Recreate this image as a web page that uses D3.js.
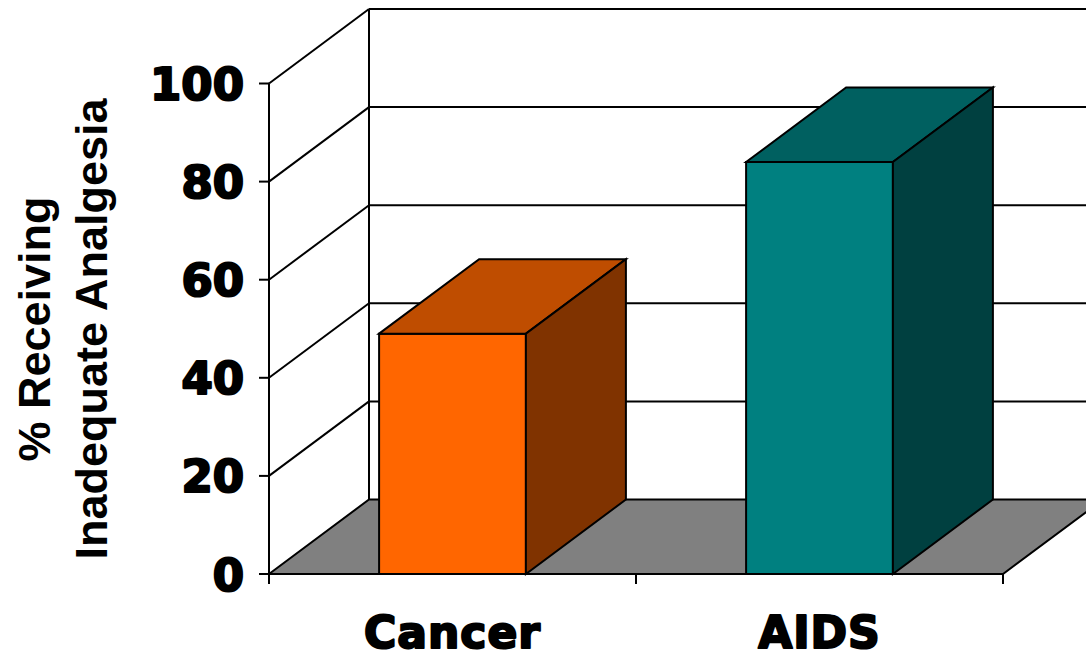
<!DOCTYPE html>
<html>
<head>
<meta charset="utf-8">
<script src="https://cdn.jsdelivr.net/npm/d3@7"></script>
<style>
  html, body { margin: 0; padding: 0; background: #fff; }
  svg { display: block; }
</style>
</head>
<body>
<svg id="chart" width="1086" height="655"></svg>
<script>
const categories = ["Cancer", "AIDS"];
const values = [49, 84];
const tickValues = [0, 20, 40, 60, 80, 100];
const tickLabels = ["0", "20", "40", "60", "80", "100"];
const frontColors = ["#FF6600", "#008080"];
const topColors = ["#BF4D00", "#006060"];
const sideColors = ["#803300", "#004040"];
const axisTitle = ["% Receiving", "Inadequate Analgesia"];

const svg = d3.select("#chart");

// front plane
const x0 = 269, x1 = 1003;
const y = d3.scaleLinear().domain([0, 100]).range([574, 83.5]);
const x = d3.scaleBand().domain(categories).range([x0, x1]).paddingInner(0.6).paddingOuter(0.3);
const DX = 100, DY = -74.5;   // depth offset
const wallRight = x1 + DX;

const stroke = "#000";
const sw = 2;

// back wall gridlines and side wall diagonals
const grid = svg.append("g");
tickValues.forEach(v => {
  if (v === 0) return;
  grid.append("line")
    .attr("x1", x0 + DX).attr("x2", wallRight + 20)
    .attr("y1", y(v) + DY).attr("y2", y(v) + DY)
    .attr("stroke", stroke).attr("stroke-width", sw);
  grid.append("line")
    .attr("x1", x0).attr("y1", y(v))
    .attr("x2", x0 + DX).attr("y2", y(v) + DY)
    .attr("stroke", stroke).attr("stroke-width", sw);
});
grid.append("line")
  .attr("x1", x0 + DX).attr("x2", x0 + DX)
  .attr("y1", y(100) + DY).attr("y2", y(0) + DY)
  .attr("stroke", stroke).attr("stroke-width", sw);

// floor
const floorPts = [[x0, y(0)], [x0 + DX, y(0) + DY], [wallRight, y(0) + DY], [x1, y(0)]];
svg.append("path")
  .attr("d", d3.line()(floorPts) + "Z")
  .attr("fill", "#808080").attr("stroke", stroke).attr("stroke-width", sw);

// bars
const bars = svg.append("g");
categories.forEach((c, i) => {
  const bx0 = x(c), bx1 = x(c) + x.bandwidth();
  const yt = y(values[i]), yb = y(0);
  bars.append("path")
    .attr("d", d3.line()([[bx0, yb], [bx0, yt], [bx1, yt], [bx1, yb]]) + "Z")
    .attr("fill", frontColors[i]).attr("stroke", stroke).attr("stroke-width", sw);
  bars.append("path")
    .attr("d", d3.line()([[bx0, yt], [bx0 + DX, yt + DY], [bx1 + DX, yt + DY], [bx1, yt]]) + "Z")
    .attr("fill", topColors[i]).attr("stroke", stroke).attr("stroke-width", sw);
  bars.append("path")
    .attr("d", d3.line()([[bx1, yb], [bx1, yt], [bx1 + DX, yt + DY], [bx1 + DX, yb + DY]]) + "Z")
    .attr("fill", sideColors[i]).attr("stroke", stroke).attr("stroke-width", sw);
});

// front y axis
const axisG = svg.append("g");
axisG.append("line")
  .attr("x1", x0).attr("x2", x0)
  .attr("y1", y(100)).attr("y2", y(0) + 10)
  .attr("stroke", stroke).attr("stroke-width", sw);
tickValues.forEach((v, i) => {
  axisG.append("line")
    .attr("x1", x0 - 10).attr("x2", x0)
    .attr("y1", y(v)).attr("y2", y(v))
    .attr("stroke", stroke).attr("stroke-width", sw);
  axisG.append("text")
    .attr("x", 244).attr("y", y(v) + 16.5)
    .attr("text-anchor", "end")
    .attr("font-family", "DejaVu Sans, sans-serif")
    .attr("font-weight", "bold")
    .attr("font-size", 45)
    .attr("fill", "#000").attr("stroke", "#000").attr("stroke-width", 2.2)
    .attr("stroke-linejoin", "round")
    .text(tickLabels[i]);
});

// bottom axis
axisG.append("line")
  .attr("x1", x0).attr("x2", x1)
  .attr("y1", y(0)).attr("y2", y(0))
  .attr("stroke", stroke).attr("stroke-width", sw);
const bounds = [x0].concat(categories.map(c => x(c) + x.bandwidth() / 2 + x.step() / 2));
bounds.forEach(bx => {
  axisG.append("line")
    .attr("x1", bx).attr("x2", bx)
    .attr("y1", y(0)).attr("y2", y(0) + 10)
    .attr("stroke", stroke).attr("stroke-width", sw);
});
categories.forEach(c => {
  axisG.append("text")
    .attr("x", x(c) + x.bandwidth() / 2)
    .attr("y", 648)
    .attr("text-anchor", "middle")
    .attr("font-family", "DejaVu Sans, sans-serif")
    .attr("font-weight", "bold")
    .attr("font-size", 44)
    .attr("letter-spacing", 1)
    .attr("fill", "#000").attr("stroke", "#000").attr("stroke-width", 2.2)
    .attr("stroke-linejoin", "round")
    .text(c);
});

// axis title
const titleBaselines = [50, 107];
axisTitle.forEach((t, i) => {
  svg.append("text")
    .attr("transform", `translate(${titleBaselines[i]},329) rotate(-90)`)
    .attr("text-anchor", "middle")
    .attr("font-family", "Liberation Sans, Arial, sans-serif")
    .attr("font-weight", "bold")
    .attr("font-size", 45)
    .attr("fill", "#000")
    .text(t);
});
</script>
</body>
</html>
